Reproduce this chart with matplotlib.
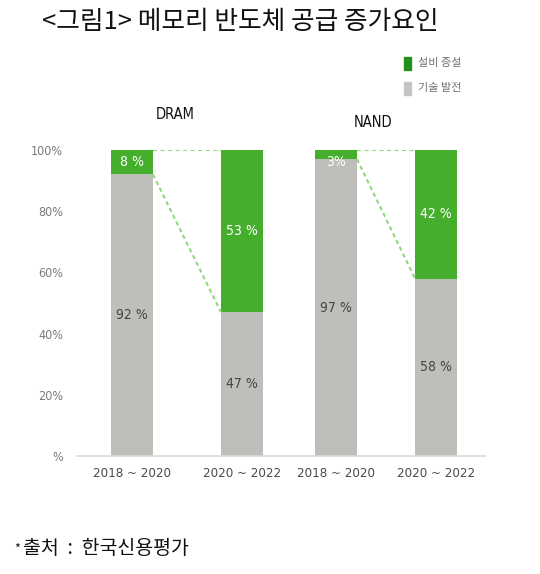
import matplotlib
matplotlib.use("Agg")
import matplotlib.pyplot as plt
from matplotlib.patches import Rectangle

plt.rcParams['font.family'] = ['Noto Sans CJK KR', 'DejaVu Sans']

# data
periods = ['2018 ~ 2020', '2020 ~ 2022', '2018 ~ 2020', '2020 ~ 2022']
groups = ['DRAM', 'NAND']
tech = [92, 47, 97, 58]      # 기술 발전
capex = [8, 53, 3, 42]       # 설비 증설
tech_labels = ['92 %', '47 %', '97 %', '58 %']
capex_labels = ['8 %', '53 %', '3%', '42 %']
yticks = [0, 20, 40, 60, 80, 100]
ytick_labels = ['%', '20%', '40%', '60%', '80%', '100%']

GREEN = '#45ae2d'
GRAY = '#bebebb'
LINE_GREEN = '#8fd87c'
NARROW = dict(family='DejaVu Sans', stretch='condensed')

xpos = [1.0, 2.1, 3.04, 4.04]
width = 0.42

fig = plt.figure(figsize=(5.4, 5.74), dpi=100)
ax = fig.add_axes([77 / 540, 1 - 456 / 574, (485 - 77) / 540, (456 - 150) / 574])

ax.bar(xpos, tech, width=width, color=GRAY, edgecolor='none')
ax.bar(xpos, capex, width=width, bottom=tech, color=GREEN, edgecolor='none')

for i, x in enumerate(xpos):
    ax.text(x, tech[i] / 2, tech_labels[i], ha='center', va='center',
            color='#454545', fontsize=10, **NARROW)
    cy = tech[i] + capex[i] / 2
    if capex[i] < 5:
        cy = tech[i] - 1
    ax.text(x, cy, capex_labels[i], ha='center', va='center',
            color='white', fontsize=10, **NARROW)

# connecting dashed lines between pairs
for a, b in [(0, 1), (2, 3)]:
    xa = xpos[a] + width / 2
    xb = xpos[b] - width / 2
    ax.plot([xa, xb], [100, 100], ls=(0, (2, 1.6)), color=LINE_GREEN, lw=1.5)
    ax.plot([xa, xb], [tech[a], tech[b]], ls=(0, (2, 1.6)), color=LINE_GREEN, lw=1.5)

ax.text(1.43, 111.5, groups[0], ha='center', va='center', fontsize=10.5,
        color='#111111', clip_on=False, **NARROW)
ax.text(3.41, 109, groups[1], ha='center', va='center', fontsize=10.5,
        color='#111111', clip_on=False, **NARROW)

ax.set_xlim(0.45, 4.53)
ax.set_ylim(0, 100)
ax.set_yticks(yticks)
ax.set_yticklabels(ytick_labels, color='#7a7a7a', fontsize=9, **NARROW)
ax.set_xticks(xpos)
ax.set_xticklabels(periods, color='#4a4a4a', fontsize=9.5, **NARROW)
ax.tick_params(length=0, pad=10)
ax.tick_params(axis='x', pad=8)
for s in ['top', 'right', 'left']:
    ax.spines[s].set_visible(False)
ax.spines['bottom'].set_color('#d9d9d9')
ax.spines['bottom'].set_linewidth(1.2)

# title
fig.text(42 / 540, 1 - 22 / 574, '<그림1> 메모리 반도체 공급 증가요인', ha='left', va='center',
         fontsize=18.5, color='#111111', weight='medium')

# legend
fig.add_artist(Rectangle((404 / 540, 1 - 70 / 574), 7 / 540, 13 / 574,
                         transform=fig.transFigure, color='#23901c'))
fig.text(418 / 540, 1 - 63 / 574, '설비 증설', ha='left', va='center', fontsize=8, color='#707070')
fig.add_artist(Rectangle((404 / 540, 1 - 95 / 574), 7 / 540, 13 / 574,
                         transform=fig.transFigure, color='#c4c4c4'))
fig.text(418 / 540, 1 - 88 / 574, '기술 발전', ha='left', va='center', fontsize=8, color='#707070')

# source
fig.text(14 / 540, 1 - 549 / 574, '*', ha='left', va='center', fontsize=9, color='#111111')
fig.text(23 / 540, 1 - 548 / 574, '출처  :  한국신용평가', ha='left', va='center',
         fontsize=14, color='#111111', weight='light')

fig.savefig('out.png', dpi=100)
